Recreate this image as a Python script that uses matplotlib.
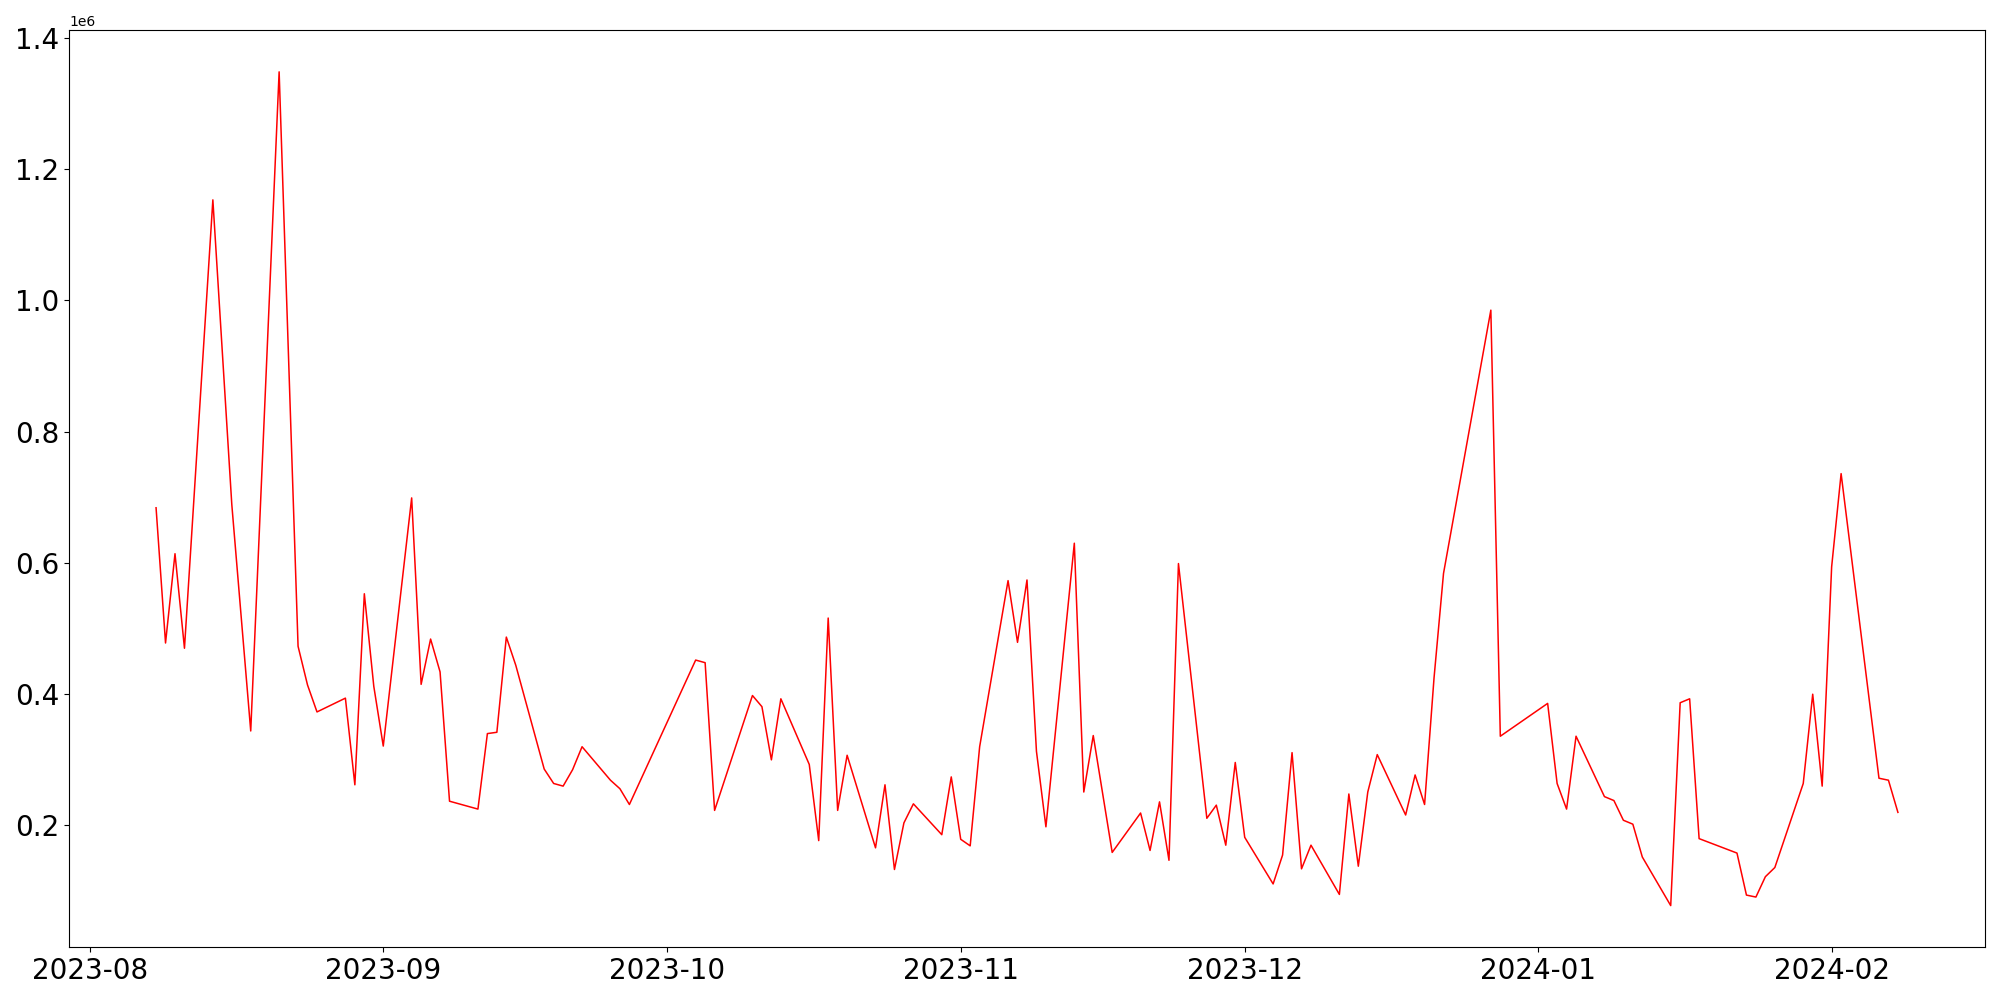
import pandas as pd
import matplotlib
matplotlib.use("Agg")
import matplotlib.pyplot as plt

dates = [
    "2023-08-08", "2023-08-09", "2023-08-10", "2023-08-11", "2023-08-14",
    "2023-08-16", "2023-08-18", "2023-08-21", "2023-08-23", "2023-08-24",
    "2023-08-25", "2023-08-28", "2023-08-29", "2023-08-30", "2023-08-31",
    "2023-09-01", "2023-09-04", "2023-09-05", "2023-09-06", "2023-09-07",
    "2023-09-08", "2023-09-11", "2023-09-12", "2023-09-13", "2023-09-14",
    "2023-09-15", "2023-09-18", "2023-09-19", "2023-09-20", "2023-09-21",
    "2023-09-22", "2023-09-25", "2023-09-26", "2023-09-27", "2023-10-04",
    "2023-10-05", "2023-10-06", "2023-10-10", "2023-10-11", "2023-10-12",
    "2023-10-13", "2023-10-16", "2023-10-17", "2023-10-18", "2023-10-19",
    "2023-10-20", "2023-10-23", "2023-10-24", "2023-10-25", "2023-10-26",
    "2023-10-27", "2023-10-30", "2023-10-31", "2023-11-01", "2023-11-02",
    "2023-11-03", "2023-11-06", "2023-11-07", "2023-11-08", "2023-11-09",
    "2023-11-10", "2023-11-13", "2023-11-14", "2023-11-15", "2023-11-17",
    "2023-11-20", "2023-11-21", "2023-11-22", "2023-11-23", "2023-11-24",
    "2023-11-27", "2023-11-28", "2023-11-29", "2023-11-30", "2023-12-01",
    "2023-12-04", "2023-12-05", "2023-12-06", "2023-12-07", "2023-12-08",
    "2023-12-11", "2023-12-12", "2023-12-13", "2023-12-14", "2023-12-15",
    "2023-12-18", "2023-12-19", "2023-12-20", "2023-12-21", "2023-12-22",
    "2023-12-27", "2023-12-28", "2024-01-02", "2024-01-03", "2024-01-04",
    "2024-01-05", "2024-01-08", "2024-01-09", "2024-01-10", "2024-01-11",
    "2024-01-12", "2024-01-15", "2024-01-16", "2024-01-17", "2024-01-18",
    "2024-01-22", "2024-01-23", "2024-01-24", "2024-01-25", "2024-01-26",
    "2024-01-29", "2024-01-30", "2024-01-31", "2024-02-01", "2024-02-02",
    "2024-02-06", "2024-02-07", "2024-02-08",
]

# values in millions
values = [
    0.684, 0.478, 0.614, 0.470, 1.153,
    0.689, 0.344, 1.348, 0.473, 0.414,
    0.373, 0.394, 0.262, 0.553, 0.412,
    0.321, 0.699, 0.415, 0.484, 0.434,
    0.237, 0.225, 0.340, 0.342, 0.487,
    0.444, 0.286, 0.264, 0.260, 0.285,
    0.320, 0.269, 0.256, 0.232, 0.452,
    0.448, 0.223, 0.398, 0.381, 0.300,
    0.393, 0.293, 0.177, 0.516, 0.223,
    0.307, 0.166, 0.262, 0.133, 0.204,
    0.233, 0.186, 0.274, 0.179, 0.169,
    0.320, 0.573, 0.479, 0.574, 0.313,
    0.198, 0.630, 0.251, 0.337, 0.159,
    0.219, 0.162, 0.236, 0.147, 0.599,
    0.211, 0.231, 0.170, 0.296, 0.182,
    0.111, 0.155, 0.311, 0.134, 0.170,
    0.095, 0.248, 0.138, 0.251, 0.308,
    0.216, 0.277, 0.232, 0.425, 0.584,
    0.985, 0.336, 0.386, 0.264, 0.225,
    0.336, 0.244, 0.238, 0.208, 0.202,
    0.152, 0.078, 0.387, 0.393, 0.180,
    0.158, 0.094, 0.091, 0.122, 0.136,
    0.264, 0.400, 0.260, 0.594, 0.736,
    0.272, 0.269, 0.220,
]


def main():
    x = pd.to_datetime(dates)
    y = [v * 1e6 for v in values]

    fig, ax = plt.subplots(figsize=(20, 10), dpi=100)
    ax.plot(x, y, color="red", linewidth=1.1)
    ax.tick_params(axis="both", labelsize=20)

    plt.tight_layout()
    plt.savefig("out.png")


if __name__ == "__main__":
    main()
